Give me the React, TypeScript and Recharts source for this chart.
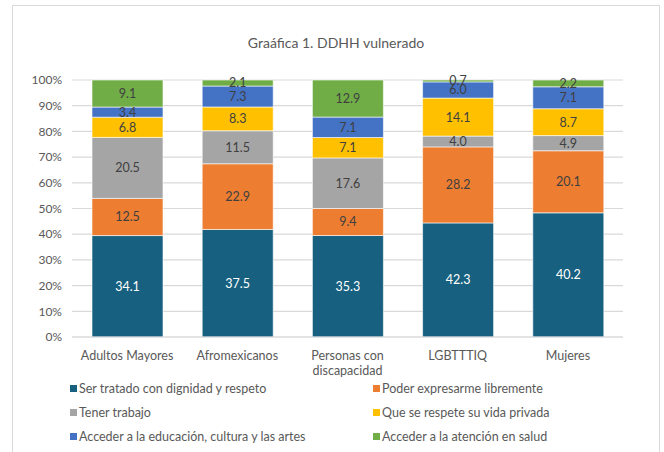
import { Bar, BarChart, CartesianGrid, LabelList, XAxis, YAxis } from "recharts";

const categories = ["Adultos Mayores", "Afromexicanos", "Personas con discapacidad", "LGBTTTIQ", "Mujeres"];

const seriesNames = [
  "Ser tratado con dignidad y respeto",
  "Poder expresarme libremente",
  "Tener trabajo",
  "Que se respete su vida privada",
  "Acceder a la educación, cultura y las artes",
  "Acceder a la atención en salud",
];

const dignidad = [34.1, 37.5, 35.3, 42.3, 40.2];
const expresion = [12.5, 22.9, 9.4, 28.2, 20.1];
const trabajo = [20.5, 11.5, 17.6, 4.0, 4.9];
const privada = [6.8, 8.3, 7.1, 14.1, 8.7];
const educacion = [3.4, 7.3, 7.1, 6.0, 7.1];
const salud = [9.1, 2.1, 12.9, 0.7, 2.2];

const yTicks = [0, 0.1, 0.2, 0.3, 0.4, 0.5, 0.6, 0.7, 0.8, 0.9, 1];

const colors = ["#17607F", "#ED7D31", "#A5A5A5", "#FFC000", "#4472C4", "#70AD47"];
const keys = ["s0", "s1", "s2", "s3", "s4", "s5"];
const allSeries = [dignidad, expresion, trabajo, privada, educacion, salud];

const data = categories.map((name, i) => {
  const row: Record<string, any> = { name };
  allSeries.forEach((vals, s) => {
    row[keys[s]] = vals[i];
  });
  return row;
});

const FONT = "Lato, 'Noto Sans', sans-serif";

function wrap(label: string, max: number) {
  const words = label.split(" ");
  const lines: string[] = [];
  let cur = "";
  words.forEach((w) => {
    const next = cur ? cur + " " + w : w;
    if (next.length > max && cur) {
      lines.push(cur);
      cur = w;
    } else {
      cur = next;
    }
  });
  if (cur) lines.push(cur);
  return lines;
}

const CategoryTick = (props: any) => {
  const { x, payload } = props;
  const lines = wrap(String(payload.value), 16);
  return (
    <g>
      {lines.map((line, i) => (
        <text
          key={i}
          x={x}
          y={355 + i * 15}
          textAnchor="middle"
          dominantBaseline="central"
          fill="#595959"
          fontSize={12.5}
          fontFamily={FONT}
        >
          {line}
        </text>
      ))}
    </g>
  );
};

export default function App() {
  return (
    <div style={{ position: "absolute", left: 0, top: 0, width: 664, height: 452, background: "#fff", overflow: "hidden" }}>
      <div
        style={{
          position: "absolute",
          left: 12,
          top: 5,
          width: 648,
          height: 470,
          border: "1.5px solid #D9D9D9",
          boxSizing: "border-box",
        }}
      />
      <div
        style={{
          position: "absolute",
          left: 12,
          width: 648,
          top: 34,
          textAlign: "center",
          fontFamily: FONT,
          fontSize: 14,
          color: "#595959",
        }}
      >
        Graáfica 1. DDHH vulnerado
      </div>
      <div style={{ position: "absolute", left: 0, top: 0 }}>
        <BarChart
          width={664}
          height={452}
          data={data}
          stackOffset="expand"
          barSize={71}
          margin={{ top: 80, right: 41, bottom: 75, left: 0 }}
        >
          <CartesianGrid vertical={false} stroke="#D9D9D9" strokeWidth={1.2} />
          <XAxis
            dataKey="name"
            tick={<CategoryTick />}
            tickLine={false}
            axisLine={{ stroke: "#D9D9D9", strokeWidth: 1.2 }}
            interval={0}
            height={40}
          />
          <YAxis
            width={72}
            domain={[0, 1]}
            ticks={yTicks}
            tickFormatter={(v: number) => `${Math.round(v * 100)}%`}
            tick={{ fill: "#595959", fontSize: 12, fontFamily: FONT }}
            tickLine={false}
            axisLine={false}
            tickMargin={4}
          />
          {keys.map((k, s) => (
            <Bar
              key={k}
              dataKey={k}
              name={seriesNames[s]}
              stackId="a"
              fill={colors[s]}
              stroke="#ffffff"
              strokeWidth={0.6}
              isAnimationActive={false}
            >
              <LabelList
                dataKey={k}
                position="center"
                formatter={(v: any) => Number(v).toFixed(1)}
                fill={s === 0 ? "#ffffff" : "#404040"}
                fontSize={12.5}
                fontFamily={FONT}
              />
            </Bar>
          ))}
        </BarChart>
      </div>
      {seriesNames.map((name, s) => {
        const col = s % 2;
        const row = Math.floor(s / 2);
        return (
          <div
            key={name}
            style={{
              position: "absolute",
              left: col === 0 ? 70 : 373,
              top: 388 + row * 24 - 8,
              height: 16,
              display: "flex",
              alignItems: "center",
              fontFamily: FONT,
              fontSize: 12.5,
              color: "#595959",
              whiteSpace: "nowrap",
            }}
          >
            <span style={{ display: "inline-block", width: 7, height: 7, background: colors[s], marginRight: 2 }} />
            {name}
          </div>
        );
      })}
    </div>
  );
}
